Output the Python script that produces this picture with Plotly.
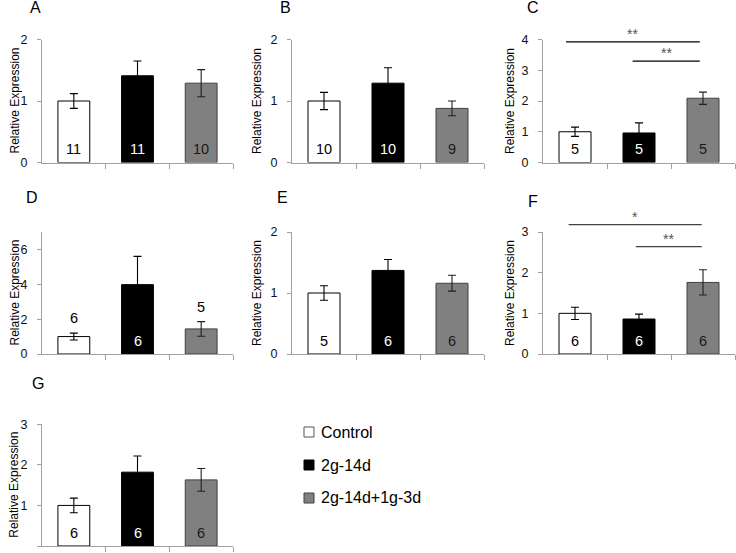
import plotly.graph_objects as go

W, H = 736, 553
FONT = "Liberation Sans, Arial, sans-serif"

groups = ["Control", "2g-14d", "2g-14d+1g-3d"]
fills = ["#ffffff", "#000000", "#808080"]
outlines = ["#000000", "#000000", "#404040"]
errcolors = ["#000000", "#000000", "#202020"]
numcolors = ["#000000", "#ffffff", "#1a1a1a"]

panel_names = ["A", "B", "C", "D", "E", "F", "G"]
values_A = [1.00, 1.41, 1.29]
errors_A = [0.12, 0.24, 0.22]
n_A = [11, 11, 10]
values_B = [1.00, 1.29, 0.88]
errors_B = [0.14, 0.25, 0.12]
n_B = [10, 10, 9]
values_C = [1.00, 0.96, 2.09]
errors_C = [0.15, 0.33, 0.20]
n_C = [5, 5, 5]
values_D = [1.00, 3.98, 1.44]
errors_D = [0.20, 1.62, 0.42]
n_D = [6, 6, 5]
values_E = [1.00, 1.37, 1.16]
errors_E = [0.12, 0.18, 0.13]
n_E = [5, 6, 6]
values_F = [1.00, 0.86, 1.76]
errors_F = [0.15, 0.12, 0.31]
n_F = [6, 6, 6]
values_G = [1.00, 1.82, 1.63]
errors_G = [0.18, 0.40, 0.28]
n_G = [6, 6, 6]

y_max = [2, 2, 4, 7, 2, 3, 3]
y_dtick = [1, 1, 1, 2, 1, 1, 1]
# n labels drawn above the bar (panel D) instead of inside
n_above = {"D": [True, False, True]}

# significance brackets: (panel, x_start, x_end, y, text)
sig_panel = ["C", "C", "F", "F"]
sig_x0 = [-0.14, 0.90, -0.10, 0.95]
sig_x1 = [1.95, 1.95, 1.98, 1.98]
sig_y = [3.92, 3.30, 3.18, 2.64]
sig_text = ["**", "**", "*", "**"]
sig_color = {"C": "#000000", "F": "#444444"}

all_values = [values_A, values_B, values_C, values_D, values_E, values_F, values_G]
all_errors = [errors_A, errors_B, errors_C, errors_D, errors_E, errors_F, errors_G]
all_n = [n_A, n_B, n_C, n_D, n_E, n_F, n_G]

# layout geometry in pixels
col_x = [(42, 233), (292, 484), (543, 735)]
row_y = [(39.5, 162.5), (232, 354), (424.3, 546)]
cell = {"A": (0, 0), "B": (0, 1), "C": (0, 2), "D": (1, 0), "E": (1, 1), "F": (1, 2), "G": (2, 0)}
label_pos = {"A": (35, 8), "B": (285, 8), "C": (533, 8), "D": (32, 198),
             "E": (282, 198), "F": (533, 201), "G": (38, 383)}
title_x = [14.5, 257, 510]

fig = go.Figure()
annotations = []
shapes = []

for i, name in enumerate(panel_names):
    r, c = cell[name]
    ax = "" if i == 0 else str(i + 1)
    xa, ya = "x" + ax, "y" + ax
    x0, x1 = col_x[c]
    yt, yb = row_y[r]
    vals, errs, ns = all_values[i], all_errors[i], all_n[i]
    for g in range(3):
        fig.add_trace(go.Bar(
            x=[g], y=[vals[g]], width=0.5, xaxis=xa, yaxis=ya,
            name=groups[g], showlegend=False,
            marker=dict(color=fills[g], line=dict(color=outlines[g], width=1)),
            error_y=dict(type="data", array=[errs[g]], visible=True,
                         color=errcolors[g], thickness=1.1, width=4),
        ))
        above = n_above.get(name, [False] * 3)[g]
        if above:
            annotations.append(dict(
                x=(g + 0.5) / 3, y=(vals[g] + errs[g]) / y_max[i],
                xref=xa + " domain", yref=ya + " domain",
                text=str(ns[g]), showarrow=False, xanchor="center",
                yanchor="bottom", yshift=5,
                font=dict(family=FONT, size=14.5, color="#000000")))
        else:
            annotations.append(dict(
                x=(g + 0.5) / 3, y=0,
                xref=xa + " domain", yref=ya + " domain",
                text=str(ns[g]), showarrow=False, xanchor="center",
                yanchor="middle", yshift=13,
                font=dict(family=FONT, size=14.5, color=numcolors[g])))
    fig.layout["xaxis" + ax] = dict(
        domain=[x0 / W, x1 / W], range=[-0.5, 2.5], anchor=ya,
        showline=True, linecolor="#a0a0a0", linewidth=1,
        ticks="outside", ticklen=5, tickcolor="#a0a0a0",
        tickvals=[0.5, 1.5, 2.5], showticklabels=False, showgrid=False, zeroline=False,
        automargin=False, fixedrange=True)
    fig.layout["yaxis" + ax] = dict(
        domain=[1 - yb / H, 1 - yt / H], range=[0, y_max[i]], anchor=xa,
        showline=True, linecolor="#a0a0a0", linewidth=1,
        ticks="outside", ticklen=4, tickcolor="#a0a0a0",
        tick0=0, dtick=y_dtick[i], showgrid=False, zeroline=False,
        ticksuffix="\u00a0\u00a0",
        automargin=False,
        tickfont=dict(family=FONT, size=12.5, color="#111111"), fixedrange=True)
    # y-axis title
    annotations.append(dict(
        x=title_x[c] / W, y=1 - (yt + yb) / 2 / H, xref="paper", yref="paper",
        text="Relative Expression", textangle=-90, showarrow=False,
        xanchor="center", yanchor="middle",
        font=dict(family=FONT, size=12, color="#000000")))
    # panel label
    lx, ly = label_pos[name]
    annotations.append(dict(
        x=lx / W, y=1 - ly / H, xref="paper", yref="paper", text=name,
        showarrow=False, xanchor="center", yanchor="middle",
        font=dict(family=FONT, size=16, color="#000000")))

# significance brackets
for k in range(len(sig_panel)):
    i = panel_names.index(sig_panel[k])
    ax = "" if i == 0 else str(i + 1)
    xa, ya = "x" + ax, "y" + ax
    col = sig_color[sig_panel[k]]
    shapes.append(dict(
        type="line", xref=xa + " domain", yref=ya + " domain",
        x0=(sig_x0[k] + 0.5) / 3, x1=(sig_x1[k] + 0.5) / 3,
        y0=sig_y[k] / y_max[i], y1=sig_y[k] / y_max[i],
        line=dict(color=col, width=1.2)))
    annotations.append(dict(
        x=((sig_x0[k] + sig_x1[k]) / 2 + 0.5) / 3, y=sig_y[k] / y_max[i],
        xref=xa + " domain", yref=ya + " domain", text=sig_text[k],
        showarrow=False, xanchor="center", yanchor="bottom", yshift=-2,
        font=dict(family=FONT, size=14, color="#555555")))

# legend drawn manually
leg_x, leg_y0, leg_dy = 304, 432, 33
for g in range(3):
    yc = leg_y0 + g * leg_dy
    shapes.append(dict(
        type="rect", xref="paper", yref="paper",
        x0=leg_x / W, x1=(leg_x + 10) / W,
        y0=1 - (yc + 5) / H, y1=1 - (yc - 5) / H,
        fillcolor=fills[g], line=dict(color=outlines[g] if g != 0 else "#555555", width=1)))
    annotations.append(dict(
        x=(leg_x + 15) / W, y=1 - yc / H, xref="paper", yref="paper",
        text=groups[g], showarrow=False, xanchor="left", yanchor="middle",
        font=dict(family=FONT, size=16, color="#000000")))

fig.update_layout(
    width=W, height=H, margin=dict(l=0, r=0, t=0, b=0, autoexpand=False),
    paper_bgcolor="#ffffff", plot_bgcolor="#ffffff",
    showlegend=False, barmode="overlay",
    annotations=annotations, shapes=shapes,
    font=dict(family=FONT),
)

fig.write_html("out.html", config={"displayModeBar": False},
               post_script="document.body.style.margin='0';")
